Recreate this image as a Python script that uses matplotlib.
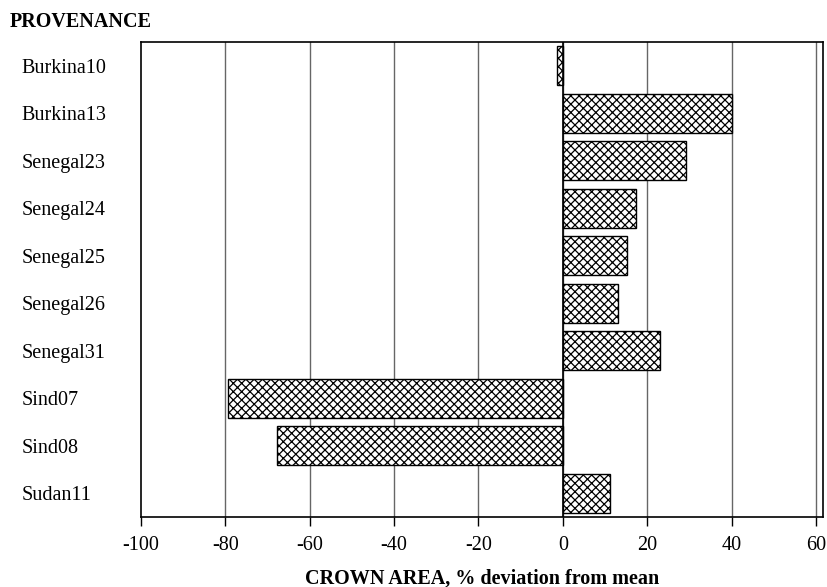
import matplotlib.pyplot as plt

# provenances, top to bottom
provenances = ['Burkina10', 'Burkina13', 'Senegal23', 'Senegal24', 'Senegal25',
               'Senegal26', 'Senegal31', 'Sind07', 'Sind08', 'Sudan11']
# crown area, % deviation from mean
deviation = [-1.4, 40.0, 29.2, 17.3, 15.2, 13.0, 23.0, -79.3, -67.7, 11.2]
xticks = [-100, -80, -60, -40, -20, 0, 20, 40, 60]

plt.rcParams['font.family'] = ['Liberation Serif', 'DejaVu Serif']
plt.rcParams['hatch.linewidth'] = 0.9

fig = plt.figure(figsize=(8.27, 5.87), dpi=100)
ax = fig.add_axes([0.1705, 0.1193, 0.8247, 0.8091])

ypos = list(range(len(provenances)))
ax.barh(ypos, deviation, height=0.82, color='white', edgecolor='black',
        hatch='xxxx', linewidth=1.0, zorder=3)

ax.set_xlim(-100, 61.7)
ax.set_ylim(len(provenances) - 0.5, -0.5)
ax.set_xticks(xticks)
ax.set_xticklabels([str(t) for t in xticks], fontsize=14.5)
ax.set_yticks(ypos)
ax.set_yticklabels(provenances, fontsize=14.5, ha='left')
ax.tick_params(axis='y', length=0, pad=86)
ax.tick_params(axis='x', length=6.5, direction='out', width=1, pad=7)

# vertical grid lines, with a darker line at zero
for t in xticks[1:]:
    ax.axvline(t, color='#666666', linewidth=1.0, zorder=1)
ax.axvline(0, color='black', linewidth=1.2, zorder=4)

for s in ax.spines.values():
    s.set_linewidth(1.2)

ax.set_xlabel('CROWN AREA, % deviation from mean', fontsize=14.5, fontweight='bold', labelpad=10)
fig.text(0.012, 0.9625, 'PROVENANCE', fontsize=14.5, fontweight='bold', ha='left', va='center')

fig.savefig('out.png', dpi=100)
